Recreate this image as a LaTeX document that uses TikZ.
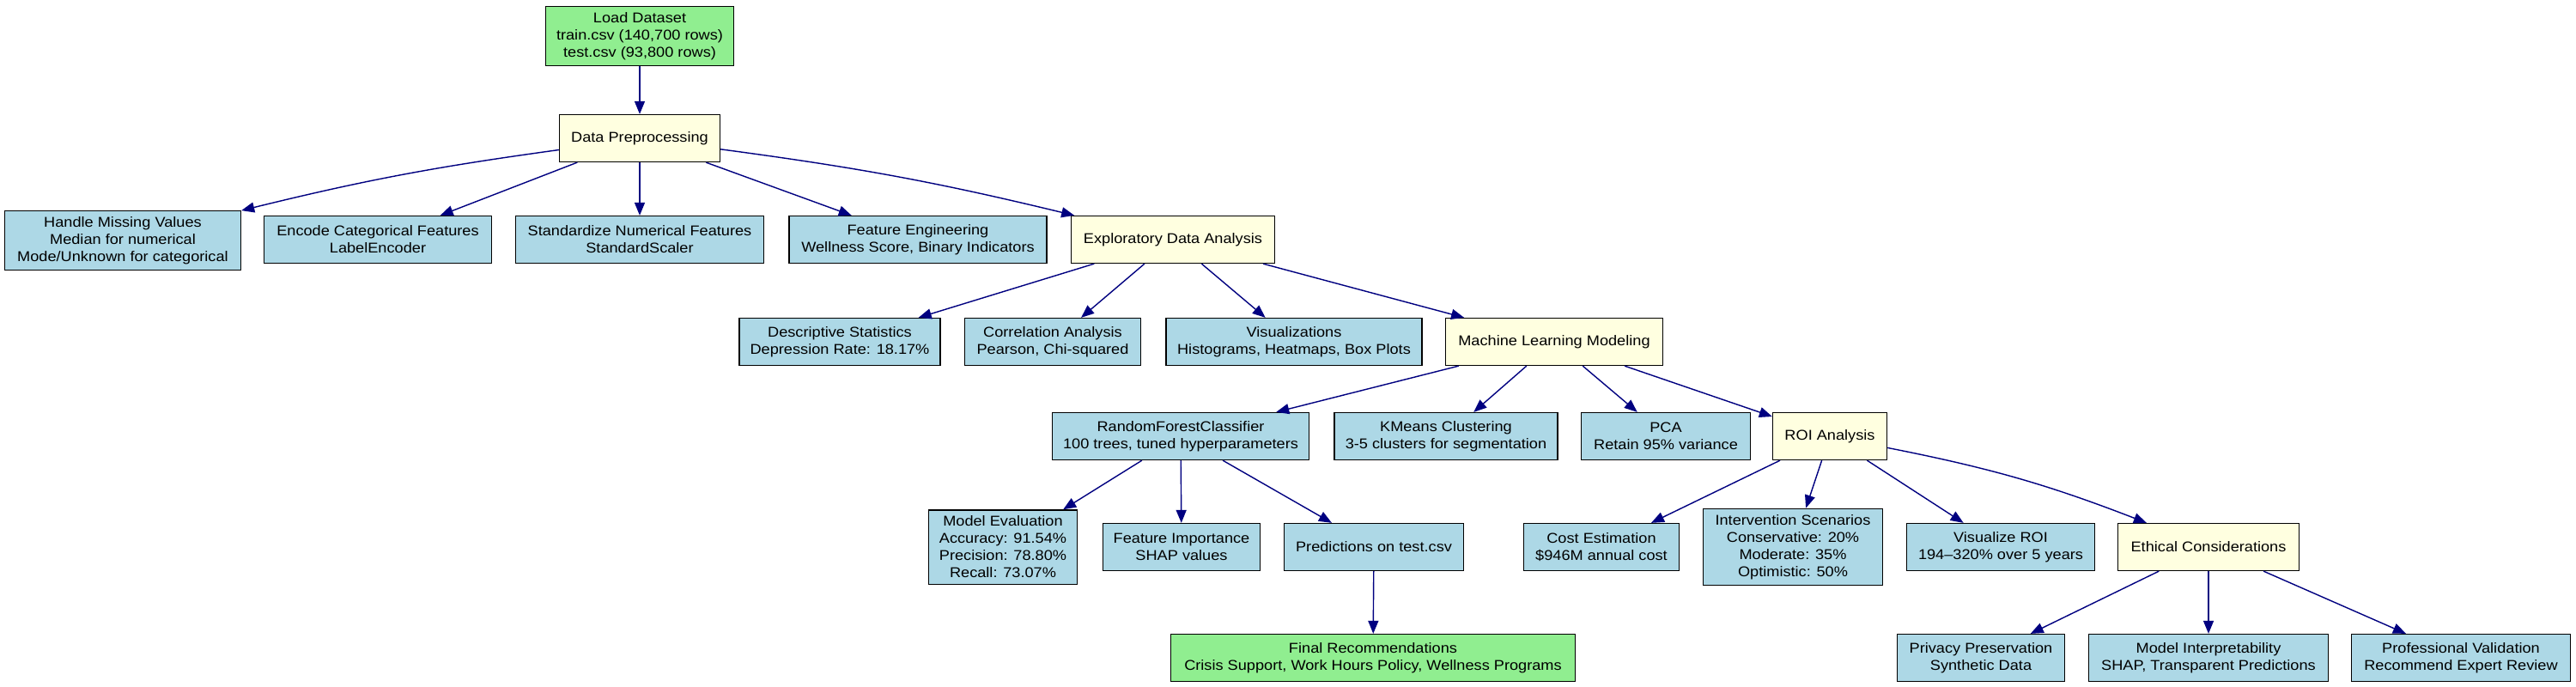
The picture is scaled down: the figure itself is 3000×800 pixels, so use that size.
\documentclass[tikz,border=0pt]{standalone}
\usepackage{fontspec}
\setmainfont{Liberation Sans}[FakeStretch=1.1]
\usetikzlibrary{arrows.meta}
\definecolor{lgreen}{HTML}{90EE90}
\definecolor{lyellow}{HTML}{FFFFE0}
\definecolor{lblue}{HTML}{ADD8E6}
\definecolor{navyc}{HTML}{000080}
\tikzset{
  box/.style={draw=black, line width=0.35pt, align=center, inner xsep=2pt, inner ysep=2pt,
    minimum height=0.55cm, font=\fontsize{4.7pt}{5.69pt}\selectfont, text=black},
  bluebox/.style={box, fill=lblue},
  yelbox/.style={box, fill=lyellow},
  grnbox/.style={box, fill=lgreen},
  edge/.style={draw=navyc, line width=0.4pt, -{Triangle[length=0.15cm,width=0.12cm]}},
}
\begin{document}
\begin{tikzpicture}[x=0.01cm,y=-0.01cm]
\fill[white] (0,0) rectangle (3000,800);
\useasboundingbox (0,0) rectangle (3000,800);

\node[grnbox, minimum width=2.19cm] (load) at (745,42) {Load Dataset\\train.csv (140,700 rows)\\test.csv (93,800 rows)};
\node[yelbox, minimum width=1.87cm] (dp) at (745,161) {Data Preprocessing};
\node[bluebox, minimum width=2.75cm] (hm) at (143,280) {Handle Missing Values\\Median for numerical\\Mode/Unknown for categorical};
\node[bluebox, minimum width=2.65cm] (enc) at (440,279) {Encode Categorical Features\\LabelEncoder};
\node[bluebox, minimum width=2.89cm] (std) at (745,279) {Standardize Numerical Features\\StandardScaler};
\node[bluebox, minimum width=3.00cm] (fe) at (1069,279) {Feature Engineering\\Wellness Score, Binary Indicators};
\node[yelbox, minimum width=2.37cm] (eda) at (1366,279) {Exploratory Data Analysis};
\node[bluebox, minimum width=2.34cm] (desc) at (978,398) {Descriptive Statistics\\Depression Rate: 18.17\%};
\node[bluebox, minimum width=2.05cm] (corr) at (1226,398) {Correlation Analysis\\Pearson, Chi-squared};
\node[bluebox, minimum width=2.98cm] (vis) at (1507,398) {Visualizations\\Histograms, Heatmaps, Box Plots};
\node[yelbox, minimum width=2.53cm] (ml) at (1810,398) {Machine Learning Modeling};
\node[bluebox, minimum width=2.99cm] (rfc) at (1375,508) {RandomForestClassifier\\100 trees, tuned hyperparameters};
\node[bluebox, minimum width=2.60cm] (km) at (1684,508) {KMeans Clustering\\3-5 clusters for segmentation};
\node[bluebox, minimum width=1.97cm] (pca) at (1940,508) {PCA\\Retain 95\% variance};
\node[yelbox, minimum width=1.33cm] (roi) at (2131,508) {ROI Analysis};
\node[bluebox, minimum width=1.73cm] (me) at (1168,637) {Model Evaluation\\Accuracy: 91.54\%\\Precision: 78.80\%\\Recall: 73.07\%};
\node[bluebox, minimum width=1.83cm] (fi) at (1376,637) {Feature Importance\\SHAP values};
\node[bluebox, minimum width=2.09cm] (pred) at (1600,637) {Predictions on test.csv};
\node[bluebox, minimum width=1.81cm] (cost) at (1865,637) {Cost Estimation\\\$946M annual cost};
\node[bluebox, minimum width=2.09cm] (int) at (2088,637) {Intervention Scenarios\\Conservative: 20\%\\Moderate: 35\%\\Optimistic: 50\%};
\node[bluebox, minimum width=2.19cm] (vroi) at (2330,637) {Visualize ROI\\194–320\% over 5 years};
\node[yelbox, minimum width=2.11cm] (eth) at (2572,637) {Ethical Considerations};
\node[grnbox, minimum width=4.70cm] (final) at (1599,766) {Final Recommendations\\Crisis Support, Work Hours Policy, Wellness Programs};
\node[bluebox, minimum width=1.95cm] (priv) at (2307,766) {Privacy Preservation\\Synthetic Data};
\node[bluebox, minimum width=2.79cm] (interp) at (2572,766) {Model Interpretability\\SHAP, Transparent Predictions};
\node[bluebox, minimum width=2.55cm] (prof) at (2866,766) {Professional Validation\\Recommend Expert Review};

\draw[edge] (load) -- (dp);
\draw[edge] (dp) to[bend right=3] (hm);
\draw[edge] (dp) -- (enc);
\draw[edge] (dp) -- (std);
\draw[edge] (dp) -- (fe);
\draw[edge] (dp) to[bend left=3] (eda);
\draw[edge] (eda) -- (desc);
\draw[edge] (eda) -- (corr);
\draw[edge] (eda) -- (vis);
\draw[edge] (eda) -- (ml);
\draw[edge] (ml) -- (rfc);
\draw[edge] (ml) -- (km);
\draw[edge] (ml) -- (pca);
\draw[edge] (ml) -- (roi);
\draw[edge] (rfc) -- (me);
\draw[edge] (rfc) -- (fi);
\draw[edge] (rfc) -- (pred);
\draw[edge] (pred) -- (final);
\draw[edge] (roi) -- (cost);
\draw[edge] (roi) -- (int);
\draw[edge] (roi) -- (vroi);
\draw[edge] (roi) to[bend left=5] (eth);
\draw[edge] (eth) -- (priv);
\draw[edge] (eth) -- (interp);
\draw[edge] (eth) -- (prof);
\end{tikzpicture}
\end{document}
